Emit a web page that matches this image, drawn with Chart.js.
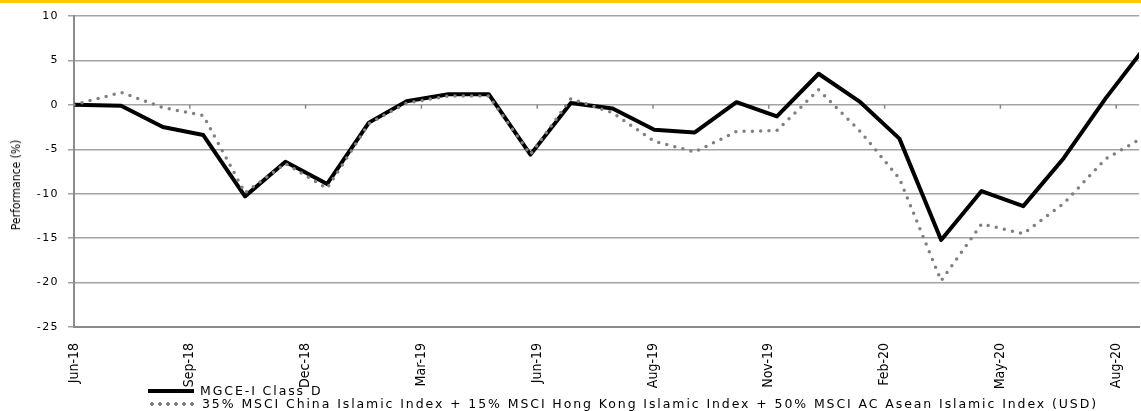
<!DOCTYPE html>
<html lang="en">
<head>
<meta charset="UTF-8">
<title>Performance (%)</title>
<style>
  html, body { margin: 0; padding: 0; background: #fff; overflow: hidden; }
  .topbar { position: absolute; left: 0; top: 0; width: 1141px; height: 3px; background: #ffcc00; z-index: 2; }
  .wrap { position: absolute; left: 0; top: 0; width: 1141px; height: 411px; }
  .ytitle {
    position: absolute; left: 16px; top: 185px;
    transform: translate(-50%, -50%) rotate(-90deg);
    font: 12px "Liberation Sans Narrow", "DejaVu Sans Condensed", sans-serif;
    white-space: nowrap; color: #000;
  }
  .legend {
    position: absolute; left: 148px; top: 384px;
    font: 12.5px "DejaVu Sans", Verdana, sans-serif;
    color: #000;
  }
  .legend div { height: 13px; line-height: 13px; white-space: nowrap; display: flex; align-items: center; }
  .swatch { display: inline-block; width: 46px; height: 4px; margin-right: 6px; }
  .solid { background: #000; }
  .dots { background: radial-gradient(circle, #808080 1.6px, transparent 2.1px) 0 0 / 8px 4px repeat-x; margin-right: 8px; }
</style>
</head>
<body>
<div class="topbar"></div>
<div class="wrap"><canvas id="perfChart"></canvas></div>
<div class="ytitle">Performance (%)</div>
<div class="legend">
  <div><span class="swatch solid"></span><span id="leg0"></span></div>
  <div><span class="swatch dots"></span><span id="leg1"></span></div>
</div>

<script src="https://cdn.jsdelivr.net/npm/chart.js"></script>
<script>
// month-end dates (first point = launch)
const dates = [
  '2018-06-26', '2018-07-31', '2018-08-31', '2018-09-30', '2018-10-31', '2018-11-30', '2018-12-31',
  '2019-01-31', '2019-02-28', '2019-03-31', '2019-04-30', '2019-05-31', '2019-06-30',
  '2019-07-31', '2019-08-31', '2019-09-30', '2019-10-31', '2019-11-30', '2019-12-31',
  '2020-01-31', '2020-02-29', '2020-03-31', '2020-04-30', '2020-05-31', '2020-06-30',
  '2020-07-31', '2020-08-31'
];
const fundReturns = [
  0, -0.1, -2.5, -3.4, -10.3, -6.4, -8.9,
  -2.0, 0.4, 1.2, 1.2, -5.6, 0.2,
  -0.4, -2.8, -3.1, 0.3, -1.3, 3.5,
  0.3, -3.8, -15.2, -9.7, -11.4, -6.0,
  0.7, 6.8
];
const benchmarkReturns = [
  0, 1.4, -0.3, -1.2, -9.9, -6.6, -9.4,
  -2.1, 0.2, 1.0, 1.0, -5.6, 0.7,
  -0.9, -4.1, -5.3, -3.0, -2.9, 1.7,
  -3.0, -8.3, -19.8, -13.4, -14.5, -11.1,
  -6.1, -3.4
];
const tickLabels = ['Jun-18', 'Sep-18', 'Dec-18', 'Mar-19', 'Jun-19', 'Aug-19', 'Nov-19', 'Feb-20', 'May-20', 'Aug-20'];
const seriesNames = [
  'MGCE-I Class D',
  '35% MSCI China Islamic Index + 15% MSCI Hong Kong Islamic Index + 50% MSCI AC Asean Islamic Index (USD)'
];

// legend text, spaced out to the width it has in the original
const leg0 = document.getElementById('leg0');
const leg1 = document.getElementById('leg1');
leg0.textContent = seriesNames[0];
leg1.textContent = seriesNames[1];
const natural = leg1.getBoundingClientRect().width;
const spacing = Math.max(0, (896 - natural) / seriesNames[1].length);
leg0.style.letterSpacing = spacing + 'px';
leg1.style.letterSpacing = spacing + 'px';

const DAY = 86400000;
const start = Date.parse(dates[0]);
const dayOf = d => Math.round((Date.parse(d) - start) / DAY);
const points = vals => dates.map((d, i) => ({ x: dayOf(d), y: vals[i] }));

// y labels in the original are slightly letter-spaced
class SpacedLinearScale extends Chart.LinearScale {
  drawLabels(chartArea) {
    const ctx = this.ctx;
    ctx.save();
    ctx.letterSpacing = '1.4px';
    super.drawLabels(chartArea);
    ctx.restore();
  }
}
SpacedLinearScale.id = 'spacedLinear';
SpacedLinearScale.defaults = Chart.LinearScale.defaults;
Chart.register(SpacedLinearScale);

// small tick marks on the zero line
const zeroTicks = {
  id: 'zeroTicks',
  beforeDatasetsDraw(chart) {
    const { ctx, scales: { x, y } } = chart;
    const y0 = y.getPixelForValue(0);
    ctx.save();
    ctx.strokeStyle = '#8a8a8a';
    ctx.lineWidth = 1.5;
    ctx.beginPath();
    x.ticks.forEach(t => {
      const px = x.getPixelForValue(t.value);
      ctx.moveTo(px, y0);
      ctx.lineTo(px, y0 + 4);
    });
    ctx.stroke();
    ctx.restore();
  }
};

new Chart(document.getElementById('perfChart'), {
  type: 'line',
  data: {
    datasets: [
      {
        label: seriesNames[1],
        data: points(benchmarkReturns),
        borderColor: '#808080',
        borderWidth: 3.5,
        borderDash: [0, 8.3],
        borderCapStyle: 'round',
        pointRadius: 0,
        tension: 0,
        order: 0
      },
      {
        label: seriesNames[0],
        data: points(fundReturns),
        borderColor: '#000',
        borderWidth: 4,
        borderJoinStyle: 'round',
        pointRadius: 0,
        tension: 0,
        order: 1
      }
    ]
  },
  options: {
    responsive: true,
    maintainAspectRatio: false,
    animation: false,
    layout: { padding: { top: 16, right: 0, bottom: 0, left: 0 } },
    plugins: { legend: { display: false }, tooltip: { enabled: false } },
    scales: {
      x: {
        type: 'linear',
        min: 0,
        max: 791,
        afterFit: s => { s.height = 84; },
        grid: { display: false },
        border: { display: true, color: '#8a8a8a', width: 2 },
        ticks: {
          stepSize: 86,
          includeBounds: false,
          autoSkip: false,
          maxRotation: 90,
          minRotation: 90,
          padding: 8,
          color: '#000',
          font: { family: '"Liberation Sans Narrow", "DejaVu Sans Condensed", sans-serif', size: 14 },
          callback: (v, i) => tickLabels[i]
        }
      },
      y: {
        type: 'spacedLinear',
        min: -25,
        max: 10,
        afterFit: s => { s.width = 74; },
        grid: { color: '#a3a3a3', lineWidth: 1.5, tickLength: 6 },
        border: { color: '#8a8a8a', width: 2 },
        ticks: {
          stepSize: 5,
          padding: 9,
          color: '#000',
          font: { family: '"DejaVu Sans", Verdana, sans-serif', size: 11 }
        }
      }
    }
  },
  plugins: [zeroTicks]
});
</script>
</body>
</html>
